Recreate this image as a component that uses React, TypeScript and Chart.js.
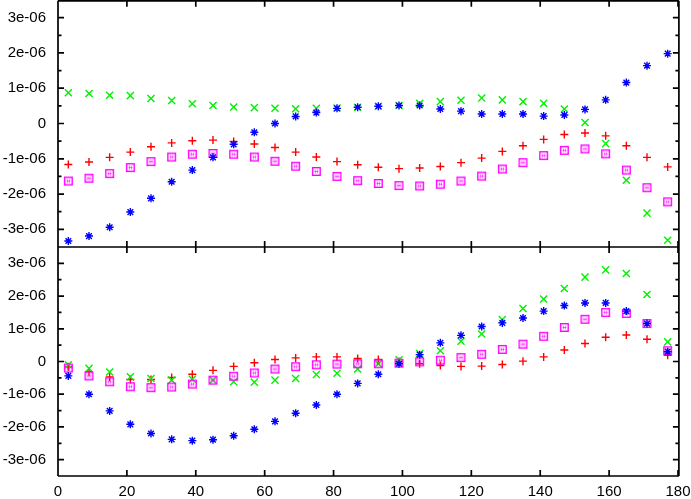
import React, { useEffect, useRef } from 'react';
import { Chart, registerables } from 'chart.js';

Chart.register(...registerables);

// x positions (angle)
const angles = [3, 9, 15, 21, 27, 33, 39, 45, 51, 57, 63, 69, 75, 81, 87, 93, 99, 105, 111, 117, 123, 129, 135, 141, 147, 153, 159, 165, 171, 177];

// values in units of 1e-06
const topRed = [-1.16, -1.09, -0.96, -0.81, -0.66, -0.55, -0.49, -0.47, -0.51, -0.58, -0.68, -0.81, -0.95, -1.08, -1.17, -1.24, -1.28, -1.26, -1.22, -1.11, -0.98, -0.79, -0.63, -0.45, -0.31, -0.27, -0.35, -0.63, -0.96, -1.23];
const topGreen = [0.87, 0.85, 0.80, 0.79, 0.71, 0.65, 0.56, 0.51, 0.47, 0.45, 0.43, 0.42, 0.43, 0.44, 0.46, 0.49, 0.51, 0.57, 0.62, 0.66, 0.72, 0.67, 0.62, 0.57, 0.41, 0.03, -0.57, -1.61, -2.54, -3.31];
const topBlue = [-3.33, -3.19, -2.94, -2.51, -2.12, -1.65, -1.32, -0.96, -0.59, -0.25, 0.0, 0.20, 0.31, 0.43, 0.46, 0.49, 0.51, 0.51, 0.41, 0.35, 0.27, 0.27, 0.27, 0.21, 0.24, 0.40, 0.67, 1.16, 1.64, 1.98];
const topMagenta = [-1.63, -1.55, -1.42, -1.25, -1.08, -0.95, -0.87, -0.85, -0.87, -0.95, -1.07, -1.21, -1.36, -1.50, -1.62, -1.70, -1.76, -1.77, -1.72, -1.63, -1.49, -1.29, -1.11, -0.91, -0.76, -0.72, -0.86, -1.32, -1.82, -2.22];

const botRed = [-0.16, -0.31, -0.47, -0.55, -0.55, -0.49, -0.39, -0.27, -0.15, -0.04, 0.06, 0.11, 0.14, 0.14, 0.09, 0.06, 0.0, -0.07, -0.12, -0.15, -0.14, -0.09, 0.01, 0.14, 0.35, 0.55, 0.74, 0.81, 0.68, 0.19];
const botGreen = [-0.10, -0.21, -0.32, -0.47, -0.52, -0.57, -0.54, -0.57, -0.62, -0.63, -0.57, -0.52, -0.40, -0.36, -0.23, -0.07, 0.05, 0.24, 0.33, 0.62, 0.84, 1.28, 1.62, 1.91, 2.23, 2.58, 2.80, 2.69, 2.05, 0.60];
const botBlue = [-0.44, -1.00, -1.51, -1.92, -2.20, -2.38, -2.42, -2.39, -2.27, -2.07, -1.83, -1.58, -1.33, -1.00, -0.67, -0.39, -0.07, 0.21, 0.57, 0.80, 1.07, 1.18, 1.33, 1.54, 1.71, 1.79, 1.79, 1.54, 1.16, 0.30];
const botMagenta = [-0.20, -0.44, -0.62, -0.77, -0.80, -0.78, -0.69, -0.57, -0.45, -0.35, -0.23, -0.16, -0.10, -0.08, -0.07, -0.07, -0.05, -0.01, 0.04, 0.12, 0.22, 0.37, 0.53, 0.77, 1.04, 1.29, 1.50, 1.47, 1.16, 0.33];

const xTicks = [0, 20, 40, 60, 80, 100, 120, 140, 160, 180];
const yTicks = [-3, -2, -1, 0, 1, 2, 3];
const yMinorTicks = [-2.5, -1.5, -0.5, 0.5, 1.5, 2.5];

const FONT = { family: '"Liberation Sans", Arial, Helvetica, sans-serif', size: 15 };

function makeBoxMarker(): HTMLCanvasElement {
  const c = document.createElement('canvas');
  c.width = 11;
  c.height = 11;
  const g = c.getContext('2d')!;
  g.strokeStyle = '#ff00ff';
  g.lineWidth = 1.4;
  g.strokeRect(1.7, 1.7, 7.6, 7.6);
  g.globalAlpha = 0.6;
  g.lineWidth = 1;
  g.beginPath();
  g.moveTo(4.5, 3.5); g.lineTo(4.5, 7.5);
  g.moveTo(6.5, 3.5); g.lineTo(6.5, 7.5);
  g.moveTo(3.5, 5.5); g.lineTo(7.5, 5.5);
  g.stroke();
  return c;
}

function pts(ys: number[]) {
  return angles.map((x, i) => ({ x, y: ys[i] }));
}

const fmtY = (v: number) => (v === 0 ? '0' : `${v}e-06`);

const framePlugin = {
  id: 'gnuframe',
  afterDraw(chart: any) {
    const ctx = chart.ctx as CanvasRenderingContext2D;
    const xs = chart.scales.x;
    const panels = [chart.scales.yTop, chart.scales.yBot];
    const ca = chart.chartArea;
    const L = ca.left;
    const R = ca.right + 0.9;
    ctx.save();
    ctx.strokeStyle = '#000000';
    ctx.lineWidth = 1.7;
    ctx.lineCap = 'butt';
    ctx.beginPath();
    panels.forEach((p: any, i: number) => {
      const T = i === 0 ? p.top + 0.85 : p.top;
      const B = p.bottom;
      ctx.moveTo(L, T); ctx.lineTo(R, T);
      ctx.moveTo(L, B); ctx.lineTo(R, B);
      ctx.moveTo(L, T); ctx.lineTo(L, B);
      ctx.moveTo(R, T); ctx.lineTo(R, B);
      for (const val of yTicks) {
        const y = p.getPixelForValue(val);
        ctx.moveTo(L, y); ctx.lineTo(L + 6, y);
        ctx.moveTo(R, y); ctx.lineTo(R - 6, y);
      }
      for (const val of yMinorTicks) {
        const y = p.getPixelForValue(val);
        ctx.moveTo(L, y); ctx.lineTo(L + 3.5, y);
        ctx.moveTo(R, y); ctx.lineTo(R - 3.5, y);
      }
      for (const val of xTicks) {
        const x = xs.getPixelForValue(val);
        ctx.moveTo(x, T); ctx.lineTo(x, T + 6);
        ctx.moveTo(x, B); ctx.lineTo(x, B - 6);
      }
    });
    ctx.stroke();
    ctx.restore();
  },
};

export default function App() {
  const ref = useRef<HTMLCanvasElement>(null);
  useEffect(() => {
    if (!ref.current) return;
    const box = makeBoxMarker();
    const mk = (label: string, data: number[], axis: string, color: string, style: any, radius: number) => ({
      label,
      data: pts(data),
      yAxisID: axis,
      borderColor: color,
      backgroundColor: color,
      pointStyle: style,
      pointRadius: radius,
      pointBorderWidth: 1.4,
      showLine: false,
    });
    const yScale = (weight: number) => ({
      type: 'linear',
      position: 'left',
      stack: 'v',
      stackWeight: weight,
      min: -3.5,
      max: 3.5,
      grid: { display: false, drawTicks: false },
      border: { display: false },
      afterBuildTicks: (s: any) => { s.ticks = yTicks.map((v) => ({ value: v })); },
      afterFit: (s: any) => { s.width = 58; s.paddingTop = 0; s.paddingBottom = 0; },
      ticks: { padding: 12, color: '#000', font: FONT, autoSkip: false, callback: (v: any) => fmtY(v) },
    });
    const chart = new Chart(ref.current, {
      type: 'scatter',
      data: {
        datasets: [
          mk('top blue', topBlue, 'yTop', '#0000ff', 'star', 4),
          mk('top magenta', topMagenta, 'yTop', '#ff00ff', box, 5),
          mk('top green', topGreen, 'yTop', '#00f000', 'crossRot', 5),
          mk('top red', topRed, 'yTop', '#ff0000', 'cross', 4),
          mk('bottom blue', botBlue, 'yBot', '#0000ff', 'star', 4),
          mk('bottom magenta', botMagenta, 'yBot', '#ff00ff', box, 5),
          mk('bottom green', botGreen, 'yBot', '#00f000', 'crossRot', 5),
          mk('bottom red', botRed, 'yBot', '#ff0000', 'cross', 4),
        ],
      },
      options: {
        responsive: false,
        animation: false,
        events: [],
        layout: { autoPadding: false, padding: { left: 0, right: 13, top: 0, bottom: 0 } },
        plugins: { legend: { display: false }, tooltip: { enabled: false } },
        scales: {
          x: {
            type: 'linear',
            min: 0,
            max: 180,
            position: 'bottom',
            grid: { display: false, drawTicks: false },
            border: { display: false },
            afterBuildTicks: (s: any) => { s.ticks = xTicks.map((v) => ({ value: v })); },
            afterFit: (s: any) => { s.height = 23; s.paddingLeft = 0; s.paddingRight = 0; },
            ticks: { padding: 7, color: '#000', font: FONT, maxRotation: 0, autoSkip: false },
          },
          yBot: yScale(229),
          yTop: yScale(247),
        },
      } as any,
      plugins: [framePlugin],
    });
    return () => chart.destroy();
  }, []);
  return (
    <div style={{ position: 'absolute', left: 0, top: 0, width: 691, height: 499, background: '#fff' }}>
      <canvas ref={ref} width={691} height={499} style={{ display: 'block' }} />
    </div>
  );
}
